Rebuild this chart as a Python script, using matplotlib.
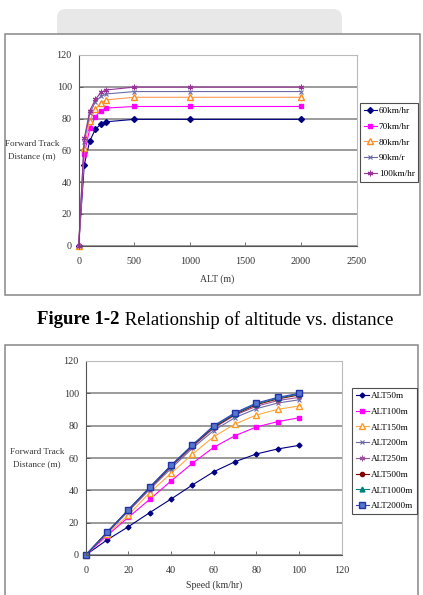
import matplotlib
matplotlib.use("Agg")
import matplotlib.pyplot as plt
from matplotlib.patches import Rectangle, FancyBboxPatch

# chart 1: altitude vs forward track distance
alt = [0, 50, 100, 150, 200, 250, 500, 1000, 2000]
speed_labels = ["60km/hr", "70km/hr", "80km/hr", "90km/r", "100km/hr"]
d60 = [0, 51.0, 66.0, 73.3, 76.5, 78.0, 79.5, 79.5, 79.5]
d70 = [0, 57.5, 73.8, 81.2, 85.0, 86.6, 87.6, 87.6, 87.6]
d80 = [0, 61.7, 78.7, 86.0, 90.0, 91.8, 93.4, 93.4, 93.4]
d90 = [0, 65.5, 83.3, 90.5, 94.0, 95.5, 97.0, 97.0, 97.0]
d100 = [0, 67.5, 85.0, 92.0, 96.5, 98.0, 99.8, 99.8, 99.8]

# chart 2: speed vs forward track distance
speed = [0, 10, 20, 30, 40, 50, 60, 70, 80, 90, 100]
alt_labels = ["ALT50m", "ALT100m", "ALT150m", "ALT200m", "ALT250m",
              "ALT500m", "ALT1000m", "ALT2000m"]
a50 = [0, 9.3, 17.5, 26.2, 34.6, 43.3, 51.5, 57.7, 62.5, 65.6, 67.8]
a100 = [0, 12.0, 23.3, 34.4, 45.8, 56.7, 66.6, 73.8, 79.2, 82.5, 84.9]
a150 = [0, 13.0, 24.7, 38.6, 50.5, 62.3, 73.2, 81.0, 86.6, 90.1, 92.2]
a200 = [0, 13.5, 27.0, 40.5, 53.5, 66.0, 77.0, 85.0, 90.5, 94.0, 96.0]
a250 = [0, 14.0, 27.5, 41.0, 54.5, 67.0, 78.5, 86.5, 92.0, 95.5, 97.5]
a500 = [0, 14.0, 28.0, 41.5, 55.0, 67.5, 79.0, 87.0, 93.0, 96.5, 99.0]
a1000 = [0, 14.0, 28.0, 41.8, 55.3, 68.0, 79.5, 87.5, 93.5, 97.0, 99.5]
a2000 = [0, 14.0, 28.0, 42.0, 55.5, 68.0, 80.0, 88.0, 94.0, 97.5, 100.0]

W, H = 423, 595
SERIF = ["Liberation Serif", "DejaVu Serif"]
plt.rcParams["font.family"] = SERIF

fig = plt.figure(figsize=(W / 100, H / 100), dpi=100)

# background layer in pixel coordinates
bg = fig.add_axes([0, 0, 1, 1], zorder=0)
bg.set_xlim(0, W)
bg.set_ylim(H, 0)
bg.axis("off")
bg.add_patch(FancyBboxPatch((57, 9), 285, 40, boxstyle="round,pad=0,rounding_size=9",
                            fc="#e8e8e8", ec="none"))
bg.add_patch(Rectangle((4.5, 34), 415.5, 261, fc="white", ec="#888888", lw=1.1))
bg.add_patch(Rectangle((4.5, 345), 413.5, 260, fc="white", ec="#888888", lw=1.1))

# caption: bold + regular part
fig.canvas.draw()
r = fig.canvas.get_renderer()
t1 = bg.text(0, 320, "Figure 1-2", fontsize=13.5, fontweight="bold", va="center", ha="left")
t2 = bg.text(0, 320, " Relationship of altitude vs. distance", fontsize=13.5,
             va="center", ha="left")
w1 = t1.get_window_extent(r).width
w2 = t2.get_window_extent(r).width
x0 = 215 - (w1 + w2) / 2
t1.set_x(x0)
t2.set_x(x0 + w1)


def style_axes(ax, xlim, xticks, ylim):
    ax.set_xlim(*xlim)
    ax.set_ylim(*ylim)
    ax.set_xticks(xticks)
    ax.set_yticks(range(0, 121, 20))
    ax.yaxis.grid(True, color="#8a8a8a", lw=1.2)
    ax.set_axisbelow(True)
    for s in ("top", "right"):
        ax.spines[s].set_color("#bbbbbb")
        ax.spines[s].set_linewidth(0.8)
    for s in ("left", "bottom"):
        ax.spines[s].set_color("#555555")
        ax.spines[s].set_linewidth(0.8)
    ax.tick_params(direction="in", length=3, width=0.6, color="#555555",
                   labelsize=7.3, labelcolor="#333333")
    ax.tick_params(axis="x", pad=8)
    ax.tick_params(axis="y", pad=5)


def add_legend(handles, labels, x, y):
    leg = fig.legend(handles, labels, loc="upper left",
                     bbox_to_anchor=(x / W, 1 - y / H),
                     fontsize=6.6, frameon=True, fancybox=False, edgecolor="#222222",
                     labelspacing=0.8, handlelength=1.4, handletextpad=0.25,
                     borderpad=0.4, borderaxespad=0)
    leg.get_frame().set_linewidth(0.8)
    return leg


# chart 1
ax1 = fig.add_axes([78.7 / W, 1 - 245.7 / H, 277.8 / W, 190.7 / H], zorder=2)
style_axes(ax1, (0, 2500), range(0, 2501, 500), (0, 120))
series1 = [
    (d60, "#000080", dict(marker="D", ms=3, mfc="#000080", mec="#000080")),
    (d70, "#ff00ff", dict(marker="s", ms=3.5, mfc="#ff00ff", mec="#ff00ff")),
    (d80, "#ff9955", dict(marker="^", ms=4, mfc="white", mec="#ff8c1a")),
    (d90, "#6a6aa8", dict(marker="x", ms=3.5, mec="#6a6aa8", mew=0.8)),
    (d100, "#993399", dict(marker=(6, 2, 0), ms=4, mec="#993399", mew=0.8)),
]
for (vals, col, mk), lab in zip(series1, speed_labels):
    ax1.plot(alt, vals, color=col, lw=0.8, label=lab, clip_on=False, **mk)
ax1.set_xlabel("ALT (m)", fontsize=7, color="#333333", labelpad=6)
fig.text(32 / W, 1 - 150 / H, "Forward Track\nDistance (m)", fontsize=6.6,
         color="#333333", ha="center", va="center", linespacing=1.6)
h1, l1 = ax1.get_legend_handles_labels()
add_legend(h1, l1, 360, 103)

# chart 2
ax2 = fig.add_axes([85.7 / W, 1 - 555 / H, 256 / W, 194 / H], zorder=2)
style_axes(ax2, (0, 120), range(0, 121, 20), (0, 120))
ax2.tick_params(axis="x", pad=8)
series2 = [
    (a50, "#000080", dict(marker="D", ms=2.5, mfc="#000080", mec="#000080")),
    (a100, "#ff00ff", dict(marker="s", ms=3.5, mfc="#ff00ff", mec="#ff00ff")),
    (a150, "#ffaa44", dict(marker="^", ms=4, mfc="white", mec="#ff9922")),
    (a200, "#6a6aa8", dict(marker="x", ms=3.5, mec="#6a6aa8", mew=0.8)),
    (a250, "#995599", dict(marker=(6, 2, 0), ms=4, mec="#995599", mew=0.8)),
    (a500, "#800000", dict(marker="o", ms=3, mfc="#800000", mec="#800000")),
    (a1000, "#008080", dict(marker="^", ms=3.5, mfc="#008080", mec="#008080")),
    (a2000, "#3344bb", dict(marker="s", ms=4, mfc="#5577cc", mec="#2233aa")),
]
for (vals, col, mk), lab in zip(series2, alt_labels):
    ax2.plot(speed, vals, color=col, lw=0.8, label=lab, clip_on=False, **mk)
ax2.set_xlabel("Speed (km/hr)", fontsize=7, color="#333333", labelpad=4)
fig.text(37 / W, 1 - 458 / H, "Forward Track\nDistance (m)", fontsize=6.6,
         color="#333333", ha="center", va="center", linespacing=1.6)
h2, l2 = ax2.get_legend_handles_labels()
add_legend(h2, l2, 352, 388)

fig.savefig("out.png", dpi=100)
